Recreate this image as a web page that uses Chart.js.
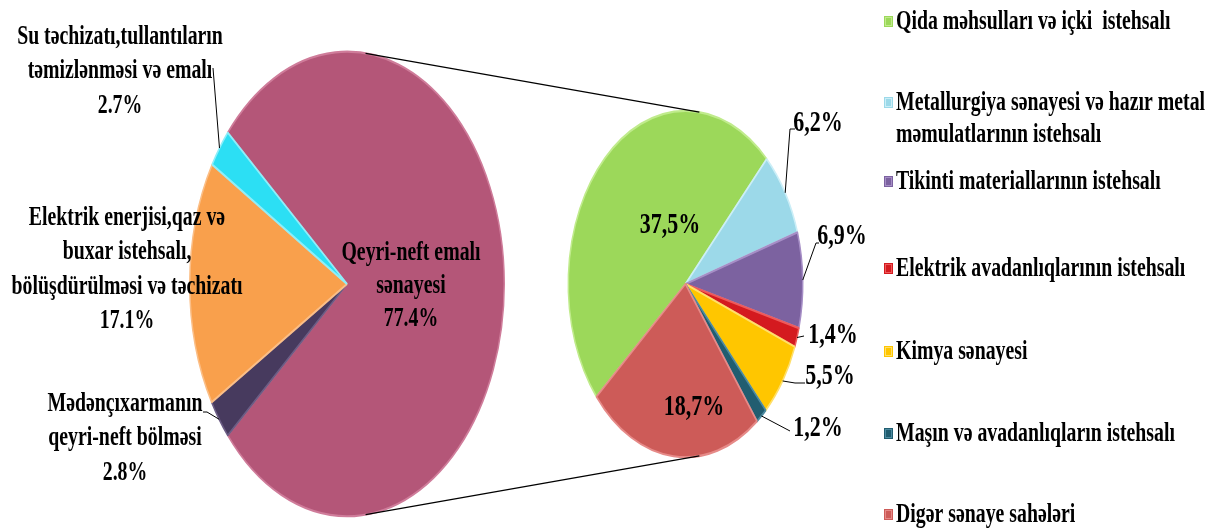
<!DOCTYPE html>
<html><head><meta charset="utf-8">
<script src="https://cdn.jsdelivr.net/npm/chart.js@4.4.1/dist/chart.umd.min.js"></script>
<style>
html,body{margin:0;padding:0;background:#fff;}
#wrap{position:relative;width:1223px;height:532px;overflow:hidden;}
#wrap canvas{position:absolute;left:0;top:0;}
</style></head><body>
<div id="wrap"><canvas id="c1" width="1223" height="532"></canvas><canvas id="c2" width="1223" height="532"></canvas></div>
<script>
// ---- data ----
const mainLabels = [
  ['Qeyri-neft emalı', 'sənayesi'],
  ['Mədənçıxarmanın', 'qeyri-neft bölməsi'],
  ['Elektrik enerjisi,qaz və', 'buxar istehsalı,', 'bölüşdürülməsi və təchizatı'],
  ['Su təchizatı,tullantıların', 'təmizlənməsi və emalı']
];
const mainValues = [77.4, 2.8, 17.1, 2.7];
const mainValueText = ['77.4%', '2.8%', '17.1%', '2.7%'];

const subLabels = [
  ['Qida məhsulları və içki  istehsalı'],
  ['Metallurgiya sənayesi və hazır metal', 'məmulatlarının istehsalı'],
  ['Tikinti materiallarının istehsalı'],
  ['Elektrik avadanlıqlarının istehsalı'],
  ['Kimya sənayesi'],
  ['Maşın və avadanlıqların istehsalı'],
  ['Digər sənaye sahələri']
];
const subValues = [37.5, 6.2, 6.9, 1.4, 5.5, 1.2, 18.7];
const subValueText = ['37,5%', '6,2%', '6,9%', '1,4%', '5,5%', '1,2%', '18,7%'];

// ---- styles / layout ----
const mainColors  = ['#B45678', '#473A5E', '#F9A04C', '#2CDFF4'];
const mainBorders = ['#CF7C9A', '#6B5C84', '#FBBE86', '#8DEEF9'];
const subColors   = ['#9CD85A', '#9CD9E9', '#7C62A0', '#D41A1F', '#FFC600', '#215D70', '#CD5B58'];
const subBorders  = ['#C0EB8C', '#CBEEF7', '#A68EC6', '#EE5A5A', '#FFDF6A', '#4C8AA0', '#E68A88'];
const S = 1.477;                // vertical stretch of the pies (elliptical look)
const TX = 1.1;                 // horizontal text widening
const FONT = '"Liberation Serif", "Times New Roman", serif';

// label layout (centre x, first line y)
const mainLabelPos = [[411, 253], [125, 404], [127, 218], [120, 37]];
const mainLineGaps = [33, 34.5, 34.5, 34.5];
const subInsidePos = {0: [670, 225], 6: [694, 407]};
const subOutsidePos = {1: [818, 123], 2: [842, 236], 3: [833, 335], 4: [830, 376], 5: [818, 428]};
// leader elbows after the slice edge point
const subLeaders = {1: [[790, 129], [795, 129]], 2: [[816, 243], [819, 243]], 3: [[804, 336]], 4: [[795, 383], [805, 383]], 5: [[790, 431]]};
const mainLeaders = {3: [[213, 68]], 1: [[207, 412], [203, 412]]};
// legend layout
const legendX = 884, legendTextX = 896;
const legendY = [[22], [103, 135], [182], [269], [352], [434], [515]];

function txt(ctx, s, x, y, size, align) {
  ctx.save();
  ctx.translate(x, y);
  ctx.scale(TX, S);
  ctx.font = 'bold ' + size + 'px ' + FONT;
  ctx.textAlign = align || 'center';
  ctx.textBaseline = 'middle';
  ctx.fillStyle = '#000';
  ctx.fillText(s, 0, 0);
  ctx.restore();
}
function edgePoint(el) {
  const a = (el.startAngle + el.endAngle) / 2;
  return [el.x + el.outerRadius * Math.cos(a), el.y + S * el.outerRadius * Math.sin(a)];
}
function poly(ctx, pts) {
  ctx.beginPath();
  ctx.moveTo(pts[0][0], pts[0][1]);
  for (let i = 1; i < pts.length; i++) ctx.lineTo(pts[i][0], pts[i][1]);
  ctx.stroke();
}

const stretch = {
  id: 'stretch',
  beforeDatasetsDraw(chart) {
    const m = chart.getDatasetMeta(0).data[0];
    const ctx = chart.ctx;
    ctx.save();
    ctx.translate(m.x, m.y);
    ctx.scale(1, S);
    ctx.translate(-m.x, -m.y);
  },
  afterDatasetsDraw(chart) { chart.ctx.restore(); }
};

const mainTotal = mainValues.reduce((a, b) => a + b, 0);
const mainRotation = 90 - (mainValues[0] / mainTotal) * 360 / 2;

const chartA = new Chart(document.getElementById('c1'), {
  type: 'pie',
  data: {
    labels: mainLabels,
    datasets: [{data: mainValues, backgroundColor: mainColors, borderColor: mainBorders, borderWidth: 1.5, clip: false}]
  },
  options: {
    responsive: false, animation: false, events: [],
    rotation: mainRotation,
    layout: {padding: {left: 189, right: 718, top: 126, bottom: 90}},
    plugins: {legend: {display: false}, tooltip: {enabled: false}}
  },
  plugins: [stretch, {
    id: 'mainText',
    afterDraw(chart) {
      const ctx = chart.ctx;
      const meta = chart.getDatasetMeta(0);
      ctx.save();
      ctx.strokeStyle = '#000';
      ctx.lineWidth = 1;
      for (const k in mainLeaders) {
        poly(ctx, [edgePoint(meta.data[k])].concat(mainLeaders[k]));
      }
      ctx.restore();
      mainLabels.forEach((lines, i) => {
        const [x, y] = mainLabelPos[i];
        const all = lines.concat([mainValueText[i]]);
        all.forEach((l, j) => txt(ctx, l, x, y + j * mainLineGaps[i], 18));
      });
    }
  }]
});

const chartB = new Chart(document.getElementById('c2'), {
  type: 'pie',
  data: {
    labels: subLabels,
    datasets: [{data: subValues, backgroundColor: subColors, borderColor: subBorders, borderWidth: 1.5, clip: false}]
  },
  options: {
    responsive: false, animation: false, events: [],
    rotation: -130.6,
    layout: {padding: {left: 567, right: 419, top: 166, bottom: 130}},
    plugins: {legend: {display: false}, tooltip: {enabled: false}}
  },
  plugins: [stretch, {
    id: 'subText',
    afterDraw(chart) {
      const ctx = chart.ctx;
      const meta = chart.getDatasetMeta(0);
      const a = chartA.getDatasetMeta(0).data[0];
      const b = meta.data[0];
      // connector lines (common tangents of the two ellipses)
      const th = Math.asin((a.outerRadius - b.outerRadius) / (b.x - a.x));
      ctx.save();
      ctx.strokeStyle = '#000';
      ctx.lineWidth = 1.2;
      poly(ctx, [[a.x + a.outerRadius * Math.sin(th), a.y - S * a.outerRadius * Math.cos(th)],
                 [b.x + b.outerRadius * Math.sin(th), b.y - S * b.outerRadius * Math.cos(th)]]);
      poly(ctx, [[a.x + a.outerRadius * Math.sin(th), a.y + S * a.outerRadius * Math.cos(th)],
                 [b.x + b.outerRadius * Math.sin(th), b.y + S * b.outerRadius * Math.cos(th)]]);
      ctx.lineWidth = 1;
      for (const k in subLeaders) {
        poly(ctx, [edgePoint(meta.data[k])].concat(subLeaders[k]));
      }
      ctx.restore();
      for (const k in subInsidePos) txt(ctx, subValueText[k], subInsidePos[k][0], subInsidePos[k][1], 20);
      for (const k in subOutsidePos) txt(ctx, subValueText[k], subOutsidePos[k][0], subOutsidePos[k][1], 20);
      // legend
      subLabels.forEach((lines, i) => {
        const ys = legendY[i];
        ctx.save();
        ctx.fillStyle = subColors[i];
        ctx.fillRect(legendX, ys[0] - 6, 9, 11);
        ctx.strokeStyle = subBorders[i];
        ctx.lineWidth = 1;
        ctx.strokeRect(legendX + 1.5, ys[0] - 4.5, 6, 8);
        ctx.restore();
        lines.forEach((l, j) => txt(ctx, l, legendTextX, ys[j], 18, 'left'));
      });
    }
  }]
});
</script>
</body></html>
